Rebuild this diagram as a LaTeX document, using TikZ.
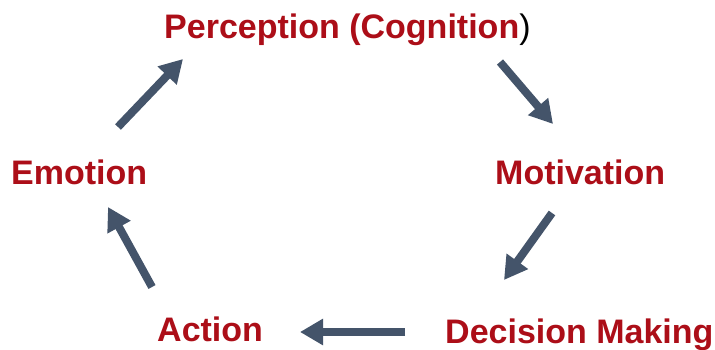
\documentclass[tikz,border=0pt]{standalone}
\usepackage{fontspec}
\setmainfont{Liberation Sans}
\usetikzlibrary{arrows.meta}
\definecolor{labelred}{RGB}{172,14,24}
\definecolor{arrowslate}{RGB}{68,84,106}
\begin{document}
\begin{tikzpicture}[x=1pt,y=-1pt,
  lbl/.style={anchor=base west,inner sep=0pt,text=labelred,
    font=\fontsize{34}{36}\selectfont\bfseries},
  flow/.style={draw=arrowslate,line width=8pt,
    -{Triangle[length=23pt,width=25pt]}}]
\useasboundingbox (0,0) rectangle (715,350);
\fill[white] (0,0) rectangle (715,350);
% labels
\node[lbl] (perc) at (164,39) {Perception (Cognition{\color{black}\mdseries)}};
\node[lbl] (motiv) at (495,184) {Motivation};
\node[lbl] (decis) at (445,343) {Decision Making};
\node[lbl] (act) at (157,341) {Action};
\node[lbl] (emo) at (11,184) {Emotion};
% arrow end points
\coordinate (a1s) at (118,127); \coordinate (a1e) at (183,59);
\coordinate (a2s) at (500,62);  \coordinate (a2e) at (553,124);
\coordinate (a3s) at (552,213); \coordinate (a3e) at (504,280);
\coordinate (a4s) at (405,332); \coordinate (a4e) at (300,332);
\coordinate (a5s) at (152,287); \coordinate (a5e) at (108,207);
\draw[flow] (a1s) -- (a1e);
\draw[flow] (a2s) -- (a2e);
\draw[flow] (a3s) -- (a3e);
\draw[flow] (a4s) -- (a4e);
\draw[flow] (a5s) -- (a5e);
\end{tikzpicture}
\end{document}
